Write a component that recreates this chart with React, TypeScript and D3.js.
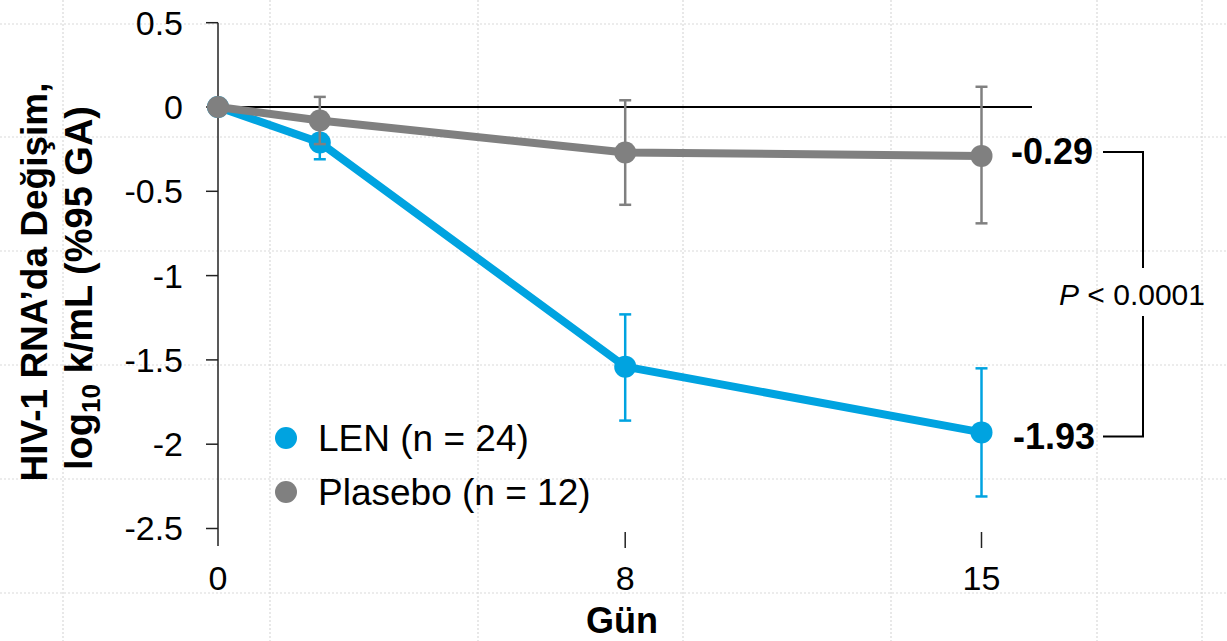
import React from "react";
import * as d3 from "d3";

const days = [0, 2, 8, 15];
const lenMean = [0, -0.21, -1.54, -1.93];
const lenLower = [0, -0.31, -1.86, -2.31];
const lenUpper = [0, -0.11, -1.23, -1.55];
const plaMean = [0, -0.08, -0.27, -0.29];
const plaLower = [0, -0.22, -0.58, -0.69];
const plaUpper = [0, 0.06, 0.04, 0.12];

const yTicks = [0.5, 0, -0.5, -1, -1.5, -2, -2.5];
const xTicks = [0, 8, 15];
const seriesNames = ["LEN (n = 24)", "Plasebo (n = 12)"];
const endLabels = ["-0.29", "-1.93"];
const pLabel = "< 0.0001";

const W = 1227;
const H = 641;
const FONT = "'Liberation Sans', Arial, Helvetica, sans-serif";
const BLUE = "#00A3E0";
const GRAY = "#808080";

const gridH = [24, 137, 251, 365, 479, 593];
const gridV = [63, 270, 478, 683, 891, 1097, 1202];

export default function App() {
  const x = d3.scaleLinear().domain([0, 15]).range([218, 981.5]);
  const y = d3.scaleLinear().domain([-2.5, 0.5]).range([528.5, 22.7]);

  const line = d3
    .line<number>()
    .x((_, i) => x(days[i]))
    .y((d) => y(d));

  const series = [
    { name: seriesNames[0], color: BLUE, mean: lenMean, lo: lenLower, hi: lenUpper },
    { name: seriesNames[1], color: GRAY, mean: plaMean, lo: plaLower, hi: plaUpper },
  ];

  const yTop = y(-0.29) - 4;
  const yBot = y(-1.93) + 4;
  const bx0 = 1103;
  const bx1 = 1143;

  return (
    <svg
      width={W}
      height={H}
      style={{ position: "absolute", left: 0, top: 0, background: "#fff" }}
      fontFamily={FONT}
    >
      {/* faint background grid */}
      <g stroke="#d9d9d9" strokeWidth={1.2} strokeDasharray="2 2">
        {gridH.map((gy) => (
          <line key={"h" + gy} x1={0} x2={W} y1={gy} y2={gy} />
        ))}
        {gridV.map((gx) => (
          <line key={"v" + gx} x1={gx} x2={gx} y1={0} y2={H} />
        ))}
      </g>

      {/* y axis */}
      <line x1={x(0)} x2={x(0)} y1={y(0.5)} y2={546} stroke="#222" strokeWidth={1.5} />
      {yTicks.map((t) => (
        <g key={t}>
          <line x1={x(0) - 12} x2={x(0)} y1={y(t)} y2={y(t)} stroke="#222" strokeWidth={1.5} />
          <text
            x={x(0) - 35}
            y={y(t)}
            dy="0.35em"
            textAnchor="end"
            fontSize={34}
            fill="#000"
          >
            {String(t)}
          </text>
        </g>
      ))}

      {/* zero line */}
      <line x1={x(0)} x2={1032} y1={y(0)} y2={y(0)} stroke="#000" strokeWidth={2} />

      {/* x ticks */}
      {xTicks.map((t) => (
        <g key={t}>
          {t !== 0 && (
            <line x1={x(t)} x2={x(t)} y1={532} y2={548} stroke="#222" strokeWidth={1.5} />
          )}
          <text x={x(t)} y={590} textAnchor="middle" fontSize={34} fill="#000">
            {t}
          </text>
        </g>
      ))}
      <text x={622} y={633} textAnchor="middle" fontSize={36} fontWeight="bold" fill="#000">
        Gün
      </text>

      {/* y title */}
      <g transform="translate(47, 282) rotate(-90)">
        <text textAnchor="middle" fontSize={37} fontWeight="bold" fill="#000">
          HIV-1 RNA’da Değişim,
        </text>
      </g>
      <g transform="translate(92, 288) rotate(-90)">
        <text textAnchor="middle" fontSize={38} fontWeight="bold" fill="#000">
          log
          <tspan fontSize={26} dy={8}>
            10
          </tspan>
          <tspan dy={-8}> k/mL (%95 GA)</tspan>
        </text>
      </g>

      {/* series */}
      {series.map((s) => (
        <g key={s.name}>
          <path d={line(s.mean) || ""} fill="none" stroke={s.color} strokeWidth={8} strokeLinejoin="round" />
          {days.map((d, i) =>
            i === 0 ? null : (
              <g key={d} stroke={s.color} strokeWidth={2.5}>
                <line x1={x(d)} x2={x(d)} y1={y(s.lo[i])} y2={y(s.hi[i])} />
                <line x1={x(d) - 6} x2={x(d) + 6} y1={y(s.lo[i])} y2={y(s.lo[i])} />
                <line x1={x(d) - 6} x2={x(d) + 6} y1={y(s.hi[i])} y2={y(s.hi[i])} />
              </g>
            )
          )}
          {days.map((d, i) => (
            <circle key={"c" + d} cx={x(d)} cy={y(s.mean[i])} r={11} fill={s.color} />
          ))}
        </g>
      ))}

      {/* end labels */}
      <text x={1093} y={yTop} dy="0.35em" textAnchor="end" fontSize={36} fontWeight="bold" fill="#000">
        {endLabels[0]}
      </text>
      <text x={1095} y={yBot} dy="0.35em" textAnchor="end" fontSize={36} fontWeight="bold" fill="#000">
        {endLabels[1]}
      </text>

      {/* bracket */}
      <path
        d={`M${bx0},${yTop}H${bx1}V268M${bx1},316V${yBot}H${bx0}`}
        fill="none"
        stroke="#000"
        strokeWidth={2}
      />
      <text x={1132} y={305} textAnchor="middle" fontSize={30} fill="#000">
        <tspan fontStyle="italic">P</tspan> {pLabel}
      </text>

      {/* legend */}
      {series.map((s, i) => (
        <g key={"lg" + i}>
          <circle cx={286} cy={438 + i * 54} r={11} fill={s.color} />
          <text x={318} y={438 + i * 54} dy="0.35em" fontSize={37} fill="#000">
            {s.name}
          </text>
        </g>
      ))}
    </svg>
  );
}
